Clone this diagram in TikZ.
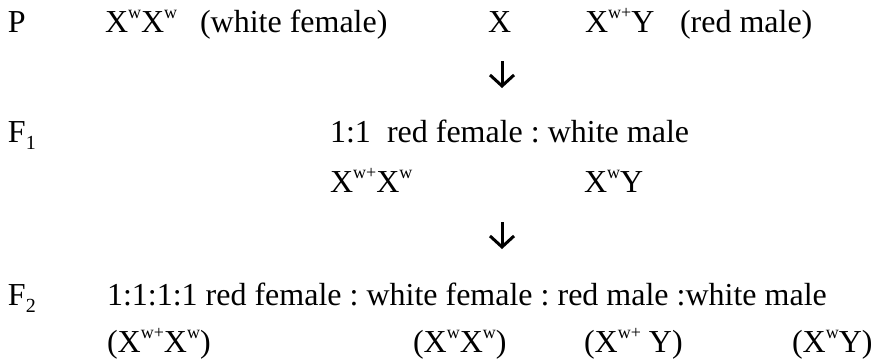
\documentclass[tikz,border=0pt]{standalone}
\usepackage{fontspec}
\setmainfont{Liberation Serif}
\newfontfamily\timesfam{Liberation Serif}
\usetikzlibrary{arrows.meta}
\frenchspacing

% genotype superscripts and generation subscripts
\newcommand{\gsup}[1]{\raisebox{0.42em}{\fontsize{18}{18}\selectfont #1}}
\newcommand{\gsub}[1]{\raisebox{-0.22em}{\fontsize{20}{20}\selectfont #1}}

\tikzset{
  txt/.style={anchor=base west, inner sep=0pt, outer sep=0pt,
              font=\timesfam\fontsize{32}{38}\selectfont},
  downarrow/.style={line width=3pt,
              -{Straight Barb[length=11pt,width=24pt,line width=3pt]}}
}

\begin{document}
\begin{tikzpicture}[x=1pt,y=-1pt]
\useasboundingbox (0,0) rectangle (874,360);

% parental cross
\node[txt] (p)      at (8,32)   {P};
\node[txt] (pfem)   at (105,32) {X\gsup{w}X\gsup{w}};
\node[txt] (pfeml)  at (200,32) {(white female)};
\node[txt] (cross)  at (488,32) {X};
\node[txt] (pmale)  at (585,32) {X\gsup{w+}Y};
\node[txt] (pmalel) at (680,32) {(red male)};

\coordinate (a1top) at (502,61);
\coordinate (a1bot) at (502,88);
\draw[downarrow] (a1top) -- (a1bot);

% first filial generation
\node[txt] (f1)     at (8,142)   {F\gsub{1}};
\node[txt] (f1rat)  at (330,142) {1:1};
\node[txt] (f1lab)  at (387,142) {red female : white male};
\node[txt] (f1fem)  at (330,192) {X\gsup{w+}X\gsup{w}};
\node[txt] (f1male) at (584,192) {X\gsup{w}Y};

\coordinate (a2top) at (502,222);
\coordinate (a2bot) at (502,249);
\draw[downarrow] (a2top) -- (a2bot);

% second filial generation
\node[txt] (f2)     at (8,305)   {F\gsub{2}};
\node[txt] (f2lab)  at (107,305) {1:1:1:1 red female : white female : red male :white male};
\node[txt] (g1)     at (107,352) {(X\gsup{w+}X\gsup{w})};
\node[txt] (g2)     at (413,352) {(X\gsup{w}X\gsup{w})};
\node[txt] (g3)     at (584,352) {(X\gsup{w+} Y)};
\node[txt] (g4)     at (792,352) {(X\gsup{w}Y)};
\end{tikzpicture}
\end{document}
